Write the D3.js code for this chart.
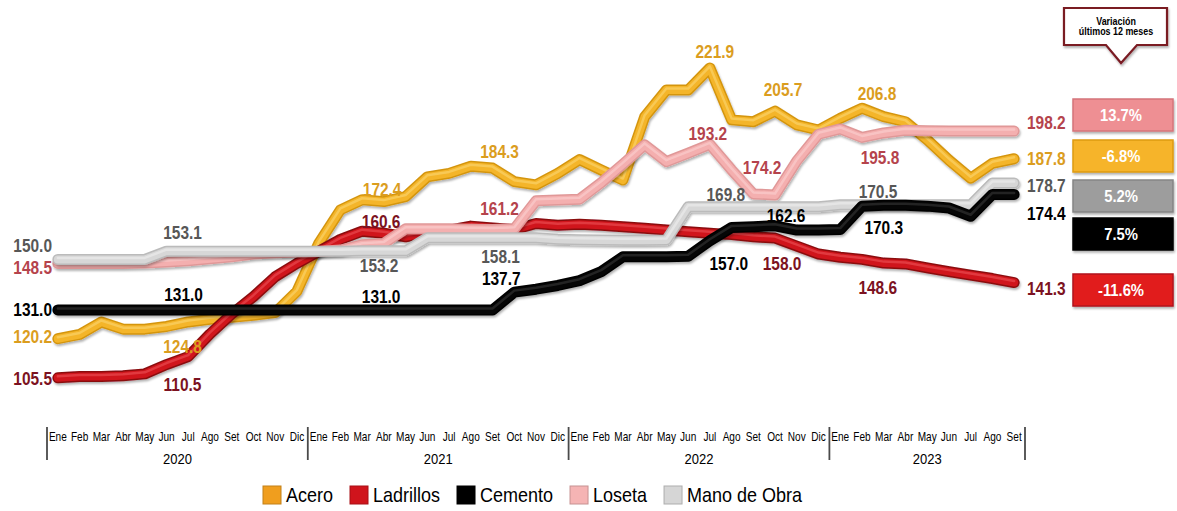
<!DOCTYPE html>
<html>
<head>
<meta charset="utf-8">
<script src="https://cdn.jsdelivr.net/npm/d3@7"></script>
<style>
  html, body { margin: 0; padding: 0; background: #fff; }
  svg { display: block; font-family: "Liberation Sans", Arial, sans-serif; }
</style>
</head>
<body>
<div id="chart"></div>
<script>
// =========================
// DATA
// =========================
const meses = ["Ene","Feb","Mar","Abr","May","Jun","Jul","Ago","Set","Oct","Nov","Dic"];
const anios = ["2020","2021","2022","2023"];
const nPeriodos = 45; // Ene 2020 .. Set 2023

const acero = [120.2,121.8,126.5,123.8,123.8,124.8,126.5,127.5,128.3,129.0,130.0,138.0,
               156.0,168.6,172.4,171.7,173.6,181.0,182.3,185.0,184.3,179.2,178.0,182.3,
               187.5,183.6,179.8,203.6,213.6,213.6,221.9,202.4,201.7,205.7,200.5,198.6,
               203.0,206.8,203.6,201.7,194.9,187.3,180.5,186.1,187.8];

const ladrillos = [105.5,106.0,106.0,106.3,107.0,110.5,113.5,122.0,129.5,136.0,143.5,148.5,
                   153.0,157.5,160.6,159.8,158.5,160.0,161.0,162.5,161.8,161.2,163.5,162.8,
                   163.2,162.8,162.3,161.7,161.0,160.4,159.8,159.3,158.5,158.0,155.0,152.0,
                   150.8,150.0,148.6,148.3,146.8,145.4,144.1,142.8,141.3];

const cemento = [131.0,131.0,131.0,131.0,131.0,131.0,131.0,131.0,131.0,131.0,131.0,131.0,
                 131.0,131.0,131.0,131.0,131.0,131.0,131.0,131.0,131.0,137.7,138.8,140.2,
                 142.0,145.4,151.0,151.0,151.0,151.2,157.0,162.0,162.3,162.6,161.0,161.0,
                 161.2,170.0,170.3,170.3,170.0,169.3,166.2,174.4,174.4];

const loseta = [148.5,148.5,148.5,148.5,148.6,149.0,149.5,150.2,151.0,152.0,152.5,152.8,
                153.0,153.5,155.5,156.0,161.5,161.5,161.5,161.3,161.2,161.5,172.0,172.3,
                172.6,178.8,185.8,193.0,186.7,189.9,193.2,183.6,174.6,174.2,187.0,197.0,
                199.0,195.8,197.5,198.5,198.3,198.2,198.2,198.2,198.2];

const manoObra = [150.0,150.0,150.0,150.0,150.0,153.1,153.1,153.1,153.1,153.1,153.1,153.1,
                  153.1,153.1,153.2,153.2,153.2,158.1,158.1,158.1,158.1,158.1,158.1,157.6,
                  157.4,157.3,157.2,157.2,157.3,169.8,169.8,169.8,169.8,169.8,169.8,169.8,
                  170.5,170.5,170.5,170.5,170.5,170.5,170.5,178.7,178.7];

// variación últimos 12 meses (orden de las cajas)
const variacionSeries = ["Loseta","Acero","Mano de Obra","Cemento","Ladrillos"];
const variacionValores = [13.7, -6.8, 5.2, 7.5, -11.6];

// puntos etiquetados dentro del gráfico (índice de mes)
const etiquetas = [
  { serie: "Acero", i: 5,  dx: 16, dy: 20 },
  { serie: "Acero", i: 14, dx: 20, dy: -10 },
  { serie: "Acero", i: 20, dx: 7,  dy: -16 },
  { serie: "Acero", i: 30, dx: 5,  dy: -16 },
  { serie: "Acero", i: 33, dx: 8,  dy: -21 },
  { serie: "Acero", i: 37, dx: 15, dy: -14 },
  { serie: "Loseta", i: 20, dx: 7,  dy: -21 },
  { serie: "Loseta", i: 30, dx: -2, dy: -11 },
  { serie: "Loseta", i: 33, dx: -13, dy: -27 },
  { serie: "Loseta", i: 37, dx: 18, dy: 20 },
  { serie: "Mano de Obra", i: 5,  dx: 16, dy: -18 },
  { serie: "Mano de Obra", i: 14, dx: 17, dy: 15 },
  { serie: "Mano de Obra", i: 20, dx: 8,  dy: 19 },
  { serie: "Mano de Obra", i: 30, dx: 16, dy: -12 },
  { serie: "Mano de Obra", i: 37, dx: 16, dy: -13 },
  { serie: "Cemento", i: 5,  dx: 17, dy: -15 },
  { serie: "Cemento", i: 14, dx: 19, dy: -13 },
  { serie: "Cemento", i: 21, dx: -13, dy: -13 },
  { serie: "Cemento", i: 30, dx: 19, dy: 23 },
  { serie: "Cemento", i: 33, dx: 11, dy: -10 },
  { serie: "Cemento", i: 38, dx: 0,  dy: 22 },
  { serie: "Ladrillos", i: 5,  dx: 16, dy: 20 },
  { serie: "Ladrillos", i: 14, dx: 19, dy: -9 },
  { serie: "Ladrillos", i: 33, dx: 7,  dy: 26 },
  { serie: "Ladrillos", i: 38, dx: -6, dy: 25 }
];

// =========================
// STYLE
// =========================
const estilos = {
  "Acero":        { dark: "#D4950F", main: "#F4B52A", hi: "#FCD879", label: "#DB9D1E", legend: "#F09E1E", startDy: -2,  endDy: 0 },
  "Ladrillos":    { dark: "#8A0A11", main: "#D0151C", hi: "#EF585C", label: "#7C1221", legend: "#D0141C", startDy: 1,   endDy: 6 },
  "Cemento":      { dark: "#000000", main: "#060606", hi: "#3C3C3C", label: "#000000", legend: "#000000", startDy: 0,   endDy: 19 },
  "Loseta":       { dark: "#E09898", main: "#F4AFAF", hi: "#FBD3D3", label: "#B5434C", legend: "#F5B4B4", startDy: 4,   endDy: -8 },
  "Mano de Obra": { dark: "#BBBBBB", main: "#D7D7D7", hi: "#F0F0F0", label: "#575757", legend: "#D6D6D6", startDy: -14, endDy: 3 }
};
const cajas = {
  "Loseta":       { fill: "#EE8F93", stroke: "#D5747A", y: 99 },
  "Acero":        { fill: "#F6B42A", stroke: "#DD9A12", y: 140 },
  "Mano de Obra": { fill: "#9D9D9D", stroke: "#858585", y: 180 },
  "Cemento":      { fill: "#000000", stroke: "#000000", y: 218 },
  "Ladrillos":    { fill: "#E11A1F", stroke: "#B0101A", y: 274 }
};

const series = [
  { name: "Acero", values: acero },
  { name: "Ladrillos", values: ladrillos },
  { name: "Cemento", values: cemento },
  { name: "Loseta", values: loseta },
  { name: "Mano de Obra", values: manoObra }
];
const byName = Object.fromEntries(series.map(s => [s.name, s]));
// orden de dibujo (abajo -> arriba)
const drawOrder = ["Acero", "Ladrillos", "Loseta", "Mano de Obra", "Cemento"];

const W = 1177, H = 511;
const SX = 0.86; // texto algo comprimido, como en la imagen original

const svg = d3.select("#chart")
  .append("svg")
  .attr("width", W)
  .attr("height", H);

const defs = svg.append("defs");
defs.append("filter")
  .attr("id", "sombra")
  .attr("x", "-5%").attr("y", "-20%").attr("width", "110%").attr("height", "140%")
  .append("feDropShadow")
  .attr("dx", 1).attr("dy", 2).attr("stdDeviation", 1.3)
  .attr("flood-color", "#000").attr("flood-opacity", 0.3);

// =========================
// SCALES
// =========================
const x = d3.scaleBand().domain(d3.range(nPeriodos)).range([47, 1025]);
const cx = i => x(i) + x.bandwidth() / 2;
const y = d3.scaleLinear().domain([100, 230]).range([392.5, 46.4]);
const fmt = v => v.toFixed(1); // guion normal para negativos

function texto(g, px, py, str, o) {
  return g.append("text")
    .attr("transform", `translate(${px},${py}) scale(${o.sx || SX},1)`)
    .attr("text-anchor", o.anchor || "middle")
    .attr("dy", "0.35em")
    .style("font-size", o.size + "px")
    .style("font-weight", o.weight || "bold")
    .style("fill", o.fill || "#000")
    .text(str);
}

// =========================
// AXIS (meses + años)
// =========================
const axis = svg.append("g")
  .attr("transform", "translate(0,431)")
  .call(d3.axisBottom(x).tickSize(0).tickFormat(i => meses[i % 12]));
axis.select(".domain").remove();
axis.selectAll("text")
  .attr("y", 0).attr("dy", "0.35em")
  .attr("transform", "translate(0,6) scale(0.84,1)")
  .style("font-family", "\"Liberation Sans\", Arial, sans-serif")
  .style("font-size", "12px")
  .style("fill", "#000");

const sepX = anios.map((a, k) => x(k * 12)).concat([x.range()[1]]);
svg.append("g").selectAll("line")
  .data(sepX)
  .enter().append("line")
  .attr("x1", d => d).attr("x2", d => d)
  .attr("y1", 427).attr("y2", 460)
  .attr("stroke", "#4a4a4a").attr("stroke-width", 1.8);

const gYear = svg.append("g");
anios.forEach((a, k) => {
  const first = k * 12, last = Math.min(k * 12 + 11, nPeriodos - 1);
  const mid = (x(first) + x(last) + x.bandwidth()) / 2;
  texto(gYear, mid, 459, a, { size: 15.5, weight: "normal", sx: 0.84 });
});

// =========================
// LINES
// =========================
const line = d3.line().x((d, i) => cx(i)).y(d => y(d)).curve(d3.curveLinear);
const gLines = svg.append("g");
drawOrder.forEach(name => {
  const s = byName[name], st = estilos[name];
  const g = gLines.append("g");
  g.append("path")
    .attr("d", line(s.values))
    .attr("fill", "none")
    .attr("stroke", st.dark)
    .attr("stroke-width", 11)
    .attr("stroke-linecap", "round")
    .attr("stroke-linejoin", "round")
    .attr("filter", "url(#sombra)");
  g.append("path")
    .attr("d", line(s.values))
    .attr("fill", "none")
    .attr("stroke", st.main)
    .attr("stroke-width", 8)
    .attr("stroke-linecap", "round")
    .attr("stroke-linejoin", "round");
  g.append("path")
    .attr("d", line(s.values))
    .attr("transform", "translate(0,-1.5)")
    .attr("fill", "none")
    .attr("stroke", st.hi)
    .attr("stroke-opacity", 0.55)
    .attr("stroke-width", 2.5)
    .attr("stroke-linecap", "round")
    .attr("stroke-linejoin", "round");
});

// =========================
// LABELS
// =========================
const gLab = svg.append("g");
series.forEach(s => {
  const st = estilos[s.name];
  const v0 = s.values[0], vN = s.values[nPeriodos - 1];
  texto(gLab, 52, y(v0) + st.startDy, fmt(v0), { size: 18, fill: st.label, anchor: "end" });
  texto(gLab, 1027, y(vN) + st.endDy, fmt(vN), { size: 18, fill: st.label, anchor: "start" });
});
etiquetas.forEach(e => {
  const v = byName[e.serie].values[e.i];
  texto(gLab, cx(e.i) + e.dx, y(v) + e.dy, fmt(v), { size: 18, fill: estilos[e.serie].label });
});

// =========================
// VARIACIÓN 12 MESES
// =========================
const gVar = svg.append("g");
gVar.append("path")
  .attr("d", "M1064,8 H1167 V45 H1137 L1121,63 L1106,45 H1064 Z")
  .attr("fill", "#fff")
  .attr("stroke", "#7A1A24")
  .attr("stroke-width", 2.2)
  .attr("filter", "url(#sombra)");
texto(gVar, 1116, 21, "Variación", { size: 10.5, sx: 0.85 });
texto(gVar, 1116, 31.5, "últimos 12 meses", { size: 10.5, sx: 0.85 });

variacionSeries.forEach((name, k) => {
  const c = cajas[name];
  gVar.append("rect")
    .attr("x", 1073).attr("y", c.y)
    .attr("width", 100).attr("height", 32)
    .attr("fill", c.fill)
    .attr("stroke", c.stroke)
    .attr("stroke-width", 1.5)
    .attr("filter", "url(#sombra)");
  const v = variacionValores[k];
  texto(gVar, 1121, c.y + 16, fmt(v) + "%", { size: 17, fill: "#fff", sx: 0.87 });
});

// =========================
// LEGEND
// =========================
const gLeg = svg.append("g");
let lx = 263;
series.forEach(s => {
  const st = estilos[s.name];
  gLeg.append("rect")
    .attr("x", lx).attr("y", 486)
    .attr("width", 18).attr("height", 18)
    .attr("fill", st.legend)
    .attr("stroke", d3.color(st.legend).darker(0.6))
    .attr("stroke-width", 1);
  const t = texto(gLeg, lx + 23, 495, s.name, { size: 20, weight: "normal", anchor: "start", sx: 0.9 });
  lx += 23 + t.node().getComputedTextLength() * 0.9 + 17;
});
</script>
</body>
</html>
